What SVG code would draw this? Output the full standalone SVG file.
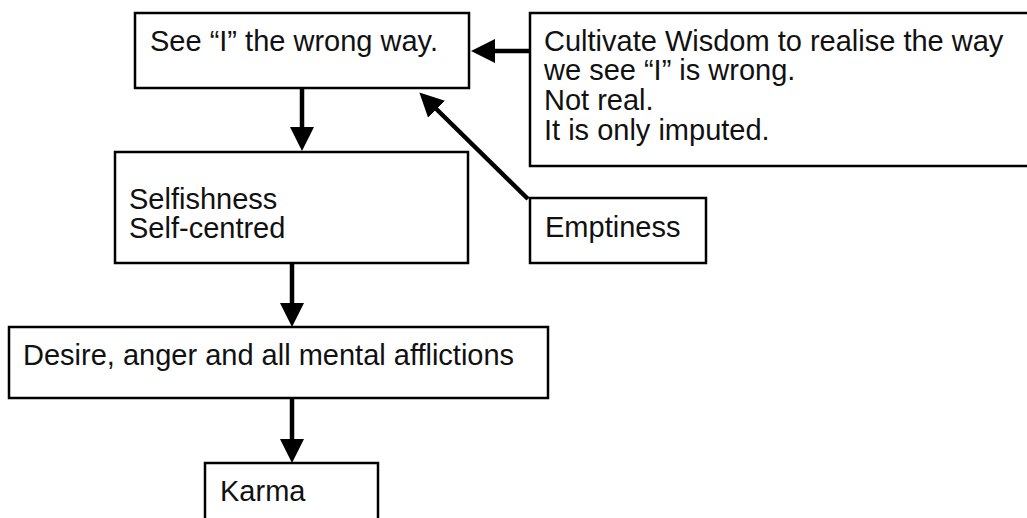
<svg xmlns="http://www.w3.org/2000/svg" width="1027" height="518" viewBox="0 0 1027 518">
<style>
.box{fill:#fff;stroke:#000;stroke-width:2.5}
.t{font-family:"Liberation Sans",Arial,sans-serif;font-size:29px;fill:#111}
.c{stroke:#000;stroke-width:4.5;fill:none}
</style>
<defs>
<marker id="ah" markerUnits="userSpaceOnUse" viewBox="0 -12 24 24" refX="1" refY="0" markerWidth="24" markerHeight="24" orient="auto">
<path d="M0,-12 L24,0 L0,12 z" fill="#000"/>
</marker>
</defs>
<rect width="1027" height="518" fill="#fff"/>
<g id="n-see">
<rect class="box" x="135" y="13" width="334" height="75"/>
<text class="t" x="150" y="51">See “I” the wrong way.</text>
</g>
<g id="n-cultivate">
<rect class="box" x="530" y="13" width="520" height="153"/>
<text class="t" x="544" y="51">Cultivate Wisdom to realise the way</text>
<text class="t" x="544" y="80">we see “I” is wrong.</text>
<text class="t" x="544" y="110">Not real.</text>
<text class="t" x="544" y="140">It is only imputed.</text>
</g>
<g id="n-self">
<rect class="box" x="115" y="152" width="353" height="111"/>
<text class="t" x="129" y="209">Selfishness</text>
<text class="t" x="129" y="238">Self-centred</text>
</g>
<g id="n-empty">
<rect class="box" x="530" y="198" width="176" height="65"/>
<text class="t" x="545" y="237">Emptiness</text>
</g>
<g id="n-desire">
<rect class="box" x="9" y="327" width="539" height="71"/>
<text class="t" x="23" y="365">Desire, anger and all mental afflictions</text>
</g>
<g id="n-karma">
<rect class="box" x="205" y="463" width="173" height="70"/>
<text class="t" x="220" y="501">Karma</text>
</g>
<g id="connectors">
<line class="c" x1="302" y1="88" x2="302" y2="128" marker-end="url(#ah)"/>
<line class="c" x1="529" y1="51" x2="494" y2="51" marker-end="url(#ah)"/>
<line class="c" x1="528" y1="199" x2="435.8" y2="108.5" marker-end="url(#ah)"/>
<line class="c" x1="292" y1="263" x2="292" y2="304" marker-end="url(#ah)"/>
<line class="c" x1="292" y1="398" x2="292" y2="440" marker-end="url(#ah)"/>
</g>
</svg>
